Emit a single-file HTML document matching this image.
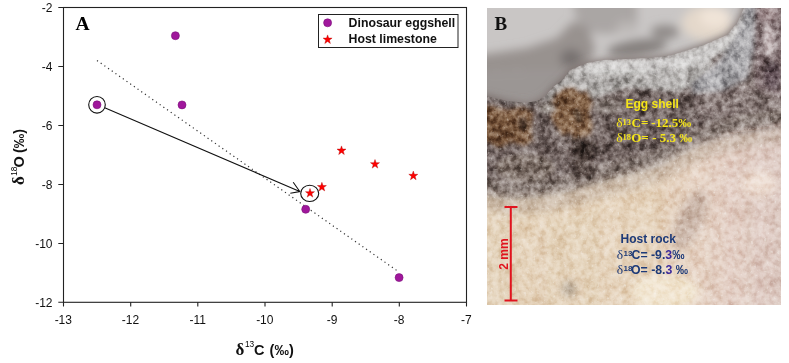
<!DOCTYPE html>
<html><head><meta charset="utf-8">
<style>
html,body{margin:0;padding:0;background:#fff;}
body{width:789px;height:363px;overflow:hidden;position:relative;font-family:"Liberation Sans",sans-serif;}
svg{position:absolute;left:0;top:0;}
.t{font-family:"Liberation Sans",sans-serif;font-size:12px;fill:#111;}
.b{font-family:"Liberation Sans",sans-serif;font-weight:bold;}
.s{font-family:"Liberation Serif",serif;}
</style></head><body>
<svg id="chart" width="789" height="363" viewBox="0 0 789 363">
 <!-- axes box -->
 <g stroke="#222" stroke-width="1.1" fill="none">
  <rect x="63.5" y="7.5" width="403" height="294.8"/>
  <!-- y ticks -->
  <path d="M58.3 7.5H63.5M58.3 66.5H63.5M58.3 125.5H63.5M58.3 184.5H63.5M58.3 243.5H63.5M58.3 302.3H63.5"/>
  <!-- x ticks -->
  <path d="M63.5 302.3V306.6M130.7 302.3V306.6M197.8 302.3V306.6M265 302.3V306.6M332.2 302.3V306.6M399.3 302.3V306.6M466.5 302.3V306.6"/>
 </g>
 <g class="t" text-anchor="end">
  <text x="52.5" y="11.5">-2</text>
  <text x="52.5" y="70.5">-4</text>
  <text x="52.5" y="129.5">-6</text>
  <text x="52.5" y="188.5">-8</text>
  <text x="52.5" y="247.5">-10</text>
  <text x="52.5" y="306.5">-12</text>
 </g>
 <g class="t" text-anchor="middle">
  <text x="63.3" y="323.5">-13</text>
  <text x="130.5" y="323.5">-12</text>
  <text x="197.7" y="323.5">-11</text>
  <text x="264.8" y="323.5">-10</text>
  <text x="332" y="323.5">-9</text>
  <text x="399.2" y="323.5">-8</text>
  <text x="466.4" y="323.5">-7</text>
 </g>
 <!-- panel label A -->
 <text x="75.5" y="29.8" font-family="Liberation Serif" font-weight="bold" font-size="19.5" fill="#000">A</text>
 <!-- axis titles -->
 <g fill="#111">
  <text x="235.6" y="354.6" font-family="Liberation Serif" font-weight="bold" font-size="17">δ</text>
  <text x="245" y="347.3" font-size="8.3" fill="#000">13</text>
  <text x="254" y="354.6" class="b" font-size="14.5">C</text>
  <text x="269.6" y="354.6" class="b" font-size="14.5">(‰)</text>
 </g>
 <g fill="#111" transform="rotate(-90)">
  <text x="-185" y="24.2" font-family="Liberation Serif" font-weight="bold" font-size="17">δ</text>
  <text x="-175.8" y="17" font-size="8.3" fill="#000">18</text>
  <text x="-167.6" y="24.2" class="b" font-size="14.5">O</text>
  <text x="-153" y="24.2" class="b" font-size="14.5">(‰)</text>
 </g>
 <!-- regression dotted line -->
 <path d="M97 60.5L397.5 271" stroke="#333" stroke-width="1.2" stroke-dasharray="1.2 3.3" fill="none"/>
 <!-- arrow -->
 <path d="M104.7 107.8L299.8 191.5M293.2 182.3L299.8 191.5L290.3 193.3" stroke="#111" stroke-width="1.1" fill="none"/>
 <!-- circles -->
 <circle cx="97" cy="104.8" r="8.3" stroke="#111" stroke-width="1.1" fill="none"/>
 <ellipse cx="309.7" cy="193.4" rx="9" ry="8.1" stroke="#111" stroke-width="1.1" fill="none"/>
 <!-- eggshell points -->
 <g fill="#a0179c" stroke="#7a0f78" stroke-width="0.6">
  <circle cx="175.4" cy="35.7" r="4"/>
  <circle cx="97" cy="104.8" r="4"/>
  <circle cx="182" cy="104.9" r="4"/>
  <circle cx="305.7" cy="209.3" r="4"/>
  <circle cx="399.1" cy="277.6" r="4"/>
 </g>
 <!-- stars -->
 <defs>
  <path id="star" d="M0,-4.7L1.1,-1.5L4.5,-1.5L1.8,0.6L2.8,3.9L0,1.9L-2.8,3.9L-1.8,0.6L-4.5,-1.5L-1.1,-1.5Z"/>
 </defs>
 <g fill="#ff0000" stroke="#b00000" stroke-width="0.4">
  <use href="#star" x="310" y="193.2"/>
  <use href="#star" x="321.9" y="187"/>
  <use href="#star" x="341.5" y="150.6"/>
  <use href="#star" x="375" y="164.2"/>
  <use href="#star" x="413.3" y="175.8"/>
 </g>
 <!-- legend -->
 <rect x="318.5" y="14.5" width="139.5" height="33" fill="#fff" stroke="#222" stroke-width="1"/>
 <circle cx="327.6" cy="22.8" r="4" fill="#a0179c" stroke="#7a0f78" stroke-width="0.6"/>
 <use href="#star" x="327.6" y="39.6" fill="#ff0000" stroke="#b00000" stroke-width="0.4"/>
 <text x="348.6" y="26.9" class="b" font-size="12.3" fill="#111">Dinosaur eggshell</text>
 <text x="348.6" y="43.1" class="b" font-size="12.3" fill="#111">Host limestone</text>
</svg>
<div id="photo" style="position:absolute;left:487px;top:8px;width:294px;height:297px;overflow:hidden;background:#c7c4c3;">
<svg width="294" height="297" viewBox="0 0 294 297" style="position:absolute;left:0;top:0">
 <defs>
  <filter id="bl" x="-20%" y="-20%" width="140%" height="140%"><feGaussianBlur stdDeviation="4"/></filter>
  <filter id="bl5" x="-20%" y="-20%" width="140%" height="140%"><feGaussianBlur stdDeviation="5"/></filter>
  <filter id="bl25" x="-20%" y="-20%" width="140%" height="140%"><feGaussianBlur stdDeviation="2.2"/></filter>
  <filter id="bl1" x="-5%" y="-5%" width="110%" height="110%"><feGaussianBlur stdDeviation="0.9"/></filter>
  <filter id="tdark" x="0" y="0" width="100%" height="100%"><feTurbulence type="fractalNoise" baseFrequency="0.09" numOctaves="3" seed="11"/><feColorMatrix type="matrix" values="0 0 0 0 0.24  0 0 0 0 0.19  0 0 0 0 0.18  3.4 0 0 0 -1.6"/></filter>
  <filter id="tlight" x="0" y="0" width="100%" height="100%"><feTurbulence type="fractalNoise" baseFrequency="0.11" numOctaves="3" seed="5"/><feColorMatrix type="matrix" values="0 0 0 0 0.78  0 0 0 0 0.73  0 0 0 0 0.71  3.0 0 0 0 -1.65"/></filter>
  <filter id="tspark" x="0" y="0" width="100%" height="100%"><feTurbulence type="fractalNoise" baseFrequency="0.3" numOctaves="2" seed="9"/><feColorMatrix type="matrix" values="0 0 0 0 0.93  0 0 0 0 0.91  0 0 0 0 0.88  6 0 0 0 -3.9"/><feGaussianBlur stdDeviation="0.6"/></filter>
  <filter id="hdark" x="0" y="0" width="100%" height="100%"><feTurbulence type="fractalNoise" baseFrequency="0.06" numOctaves="3" seed="21"/><feColorMatrix type="matrix" values="0 0 0 0 0.66  0 0 0 0 0.56  0 0 0 0 0.45  2.8 0 0 0 -1.5"/></filter>
  <filter id="hlight" x="0" y="0" width="100%" height="100%"><feTurbulence type="fractalNoise" baseFrequency="0.12" numOctaves="3" seed="4"/><feColorMatrix type="matrix" values="0 0 0 0 0.95  0 0 0 0 0.92  0 0 0 0 0.87  3.2 0 0 0 -1.65"/><feGaussianBlur stdDeviation="0.7"/></filter>
  <filter id="ovn" x="0" y="0" width="100%" height="100%" color-interpolation-filters="sRGB"><feTurbulence type="fractalNoise" baseFrequency="0.06" numOctaves="4" seed="17"/><feColorMatrix type="matrix" values="1 0 0 0 0  1 0 0 0 0  1 0 0 0 0  0 0 0 0 1"/><feComponentTransfer><feFuncR type="linear" slope="2" intercept="-0.5"/><feFuncG type="linear" slope="2" intercept="-0.5"/><feFuncB type="linear" slope="2" intercept="-0.5"/></feComponentTransfer></filter>
  <filter id="ovn2" x="0" y="0" width="100%" height="100%" color-interpolation-filters="sRGB"><feTurbulence type="fractalNoise" baseFrequency="0.17" numOctaves="3" seed="29"/><feColorMatrix type="matrix" values="1 0 0 0 0  1 0 0 0 0  1 0 0 0 0  0 0 0 0 1"/><feComponentTransfer><feFuncR type="linear" slope="2" intercept="-0.5"/><feFuncG type="linear" slope="2" intercept="-0.5"/><feFuncB type="linear" slope="2" intercept="-0.5"/></feComponentTransfer></filter>
  <linearGradient id="hostg" x1="0" y1="0" x2="294" y2="0" gradientUnits="userSpaceOnUse">
   <stop offset="0" stop-color="#e4d3bb"/><stop offset="0.55" stop-color="#e6d4bd"/><stop offset="0.78" stop-color="#e4d0c4"/><stop offset="1" stop-color="#ddc9c2"/>
  </linearGradient>
  <clipPath id="rockclip2"><polygon points="-20,88 0,88 20,93 40,95 52,92 60,86 66,79 75,72 83,62 100,55 116,52 140,51 165,50 185,47 198,43 219,36 240,27 250,15 257,0 259,-20 314,-20 314,320 -20,320"/></clipPath>
  <clipPath id="rockclip"><polygon points="-20,88 0,88 20,93 40,95 52,92 60,86 66,79 75,72 83,62 100,55 116,52 140,51 165,50 185,47 198,43 219,36 240,27 250,15 257,0 259,-20 314,-20 314,118 294,118 270,122 255,124 240,127 225,132 210,137 198,143 185,150 170,158 150,164 127,170 105,176 85,182 65,186 42,189 20,190 0,186 -20,186"/></clipPath>
  <clipPath id="hostclip"><polygon points="-20,186 0,186 20,190 42,189 65,186 85,182 105,176 127,170 150,164 170,158 185,150 198,143 210,137 225,132 240,127 255,124 270,122 294,118 314,118 314,320 -20,320"/></clipPath>
 </defs>
 <rect width="294" height="297" fill="#c9c6c5"/>
 <g filter="url(#bl5)">
  <path d="M85,-10L150,-10L150,22L120,26L92,24Z" fill="#aaa6a4"/>
  <path d="M-20,47L0,46L40,40L70,30L85,14L100,18L108,40L102,58L80,62L40,62L0,64L-20,64Z" fill="#98928f"/>
  <ellipse cx="84" cy="50" rx="11" ry="9" fill="#777170"/>
  <ellipse cx="150" cy="40" rx="30" ry="8" transform="rotate(-8 150 40)" fill="#85807e"/>
  <ellipse cx="178" cy="24" rx="14" ry="7" fill="#8f8a88"/>
  <ellipse cx="140" cy="19" rx="11" ry="6" fill="#bbb7b5"/>
  <path d="M-20,64L0,64L40,62L80,62L95,60L80,80L50,95L-20,98Z" fill="#9b9694"/>
  <ellipse cx="220" cy="15" rx="25" ry="17" fill="#e4d8cb"/>
  <ellipse cx="228" cy="9" rx="15" ry="10" fill="#f0e4d8"/>
 </g>
 <g filter="url(#bl)">
  <polygon points="-20,88 0,88 20,93 40,95 52,92 60,86 66,79 75,72 83,62 100,55 116,52 140,51 165,50 185,47 198,43 219,36 240,27 250,15 257,0 259,-20 314,-20 314,118 294,118 270,122 255,124 240,127 225,132 210,137 198,143 185,150 170,158 150,164 127,170 105,176 85,182 65,186 42,189 20,190 0,186 -20,186" fill="#6f625e"/>
 </g>
 <g clip-path="url(#rockclip)">
 <g filter="url(#bl25)">
  <!-- light rock surface zone -->
  <path d="M55,92L66,79L75,72L83,62L100,55L116,52L140,51L165,50L185,47L198,43L219,36L230,40L222,62L210,78L190,84L165,82L140,80L120,86L100,92L80,92Z" fill="#b3b0ae"/>
  <path d="M90,60L100,55L116,52L140,51L165,50L185,47L198,43L219,36L240,27L250,15L257,0L259,-20H268L266,10L258,30L240,44L215,54L190,62L160,66L130,66L105,66Z" fill="#cfcdcc"/>
  <!-- striated layer -->
  <path d="M205,75L222,62L236,48L248,30L256,10L259,-20H270L269,0L267,41L261,70L236,83L205,86Z" fill="#aaa9ac"/>
  <!-- right column -->
  <path d="M269,-20H314V100L295,98L280,90L268,80L267,40Z" fill="#806e70"/>
  <ellipse cx="282" cy="32" rx="6" ry="16" fill="#c6b9ba"/>
  <ellipse cx="281" cy="6" rx="10" ry="9" fill="#b09fa0"/>
  <ellipse cx="286" cy="68" rx="9" ry="14" fill="#5e4e52"/>
  <ellipse cx="262" cy="80" rx="8" ry="6" fill="#7f706c"/>
  <!-- mid right -->
  <path d="M205,86L236,83L262,78L314,95V112L280,108L240,108L210,104Z" fill="#8a7b79"/>
  <!-- lower right light -->
  <path d="M236,130L245,115L260,110L314,108V160L230,160Z" fill="#cabcb8"/>
  <ellipse cx="255" cy="128" rx="16" ry="9" fill="#d8ccc8"/>
  <!-- rust zones -->
  <path d="M-20,98L5,98L20,102L35,99L46,104L44,122L46,132L38,138L25,134L12,140L2,134L-20,132Z" fill="#7a583c"/>
  <path d="M62,96L68,86L76,80L86,78L94,84L100,82L106,94L102,106L106,118L102,130L96,138L88,134L84,124L76,128L70,120L64,110Z" fill="#86654a"/>
  <path d="M30,112L38,108L42,120L34,124Z" fill="#5a4538"/>
  <path d="M86,104L92,100L96,112L90,116Z" fill="#5a4638"/>
  <ellipse cx="60" cy="100" rx="8" ry="6" fill="#a49c96"/>
  <ellipse cx="120" cy="98" rx="14" ry="8" fill="#8c817c"/>
  <polyline points="-20,186 0,186 20,190 42,189 65,186 85,182 105,176 127,170 150,164 170,158 185,150 198,143 210,137 225,132 240,127 255,124 270,122 294,118 314,118" fill="none" stroke="#8a7d77" stroke-width="16" transform="translate(0,-9)"/>
  <!-- dark patch -->
  <path d="M83,131L106,126L108,171L88,170Z" fill="#524540"/>
  <!-- left lower lighter -->
  <ellipse cx="38" cy="160" rx="30" ry="14" fill="#887a72"/>
 </g>
 </g>
 <g filter="url(#bl)">
  <polygon points="-20,186 0,186 20,190 42,189 65,186 85,182 105,176 127,170 150,164 170,158 185,150 198,143 210,137 225,132 240,127 255,124 270,122 294,118 314,118 314,320 -20,320" fill="url(#hostg)"/>
  <polyline points="-20,186 0,186 20,190 42,189 65,186 85,182 105,176 127,170 150,164 170,158 185,150 198,143 210,137 225,132 240,127 255,124 270,122 294,118 314,118" fill="none" stroke="#bcac9c" stroke-width="14" transform="translate(0,9)" opacity="0.6"/>
  <ellipse cx="203" cy="212" rx="13" ry="32" transform="rotate(25 203 212)" fill="#c8b4a8" opacity="0.8"/>
  <ellipse cx="82" cy="281" rx="6" ry="7" fill="#9a8b7a"/>
  <ellipse cx="178" cy="284" rx="34" ry="18" fill="#f2e6d2"/>
  <ellipse cx="272" cy="176" rx="18" ry="12" fill="#eedfd4"/>
 </g>
 <rect width="294" height="297" clip-path="url(#rockclip)" filter="url(#ovn)" style="mix-blend-mode:soft-light" opacity="0.5"/>
 <rect width="294" height="297" clip-path="url(#rockclip)" filter="url(#ovn2)" style="mix-blend-mode:soft-light" opacity="0.7"/>
 <rect width="294" height="297" clip-path="url(#rockclip)" filter="url(#tspark)" opacity="0.25"/>
 <rect width="294" height="297" clip-path="url(#hostclip)" filter="url(#ovn)" style="mix-blend-mode:soft-light" opacity="0.3"/>
 <rect width="294" height="297" clip-path="url(#hostclip)" filter="url(#ovn2)" style="mix-blend-mode:soft-light" opacity="0.45"/>
 <rect width="294" height="297" clip-path="url(#hostclip)" filter="url(#tspark)" opacity="0.35"/>
</svg>
</div>
<svg id="ov" width="789" height="363" viewBox="0 0 789 363" style="position:absolute;left:0;top:0">
 <text x="494.5" y="30" font-family="Liberation Serif" font-weight="bold" font-size="19" fill="#111">B</text>
 <!-- scale bar -->
 <g stroke="#e0141e" stroke-width="2" fill="none">
  <path d="M504.5 207H517.5M510.8 207V300.5M504.5 300.5H517.5"/>
 </g>
 <text transform="translate(507.5 254) rotate(-90)" text-anchor="middle" class="b" font-size="12" fill="#e0141e">2 mm</text>
 <!-- eggshell text -->
 <g fill="#f5e51a">
  <text x="625.5" y="108" class="b" font-size="12">Egg shell</text>
  <text x="616.3" y="127" font-family="Liberation Serif" font-size="13.5">δ</text>
  <text x="622.6" y="124.6" font-family="Liberation Serif" font-weight="bold" font-size="8.5">13</text>
  <text x="631.6" y="127" font-family="Liberation Serif" font-weight="bold" font-size="13">C=</text>
  <text x="651.2" y="127" font-family="Liberation Serif" font-weight="bold" font-size="13">-12.5‰</text>
  <text x="616.3" y="142" font-family="Liberation Serif" font-size="13.5">δ</text>
  <text x="622.6" y="139.6" font-family="Liberation Serif" font-weight="bold" font-size="8.5">18</text>
  <text x="631.2" y="142" font-family="Liberation Serif" font-weight="bold" font-size="13">O=</text>
  <text x="652.2" y="142" font-family="Liberation Serif" font-weight="bold" font-size="13">- 5.3 ‰</text>
 </g>
 <!-- host text -->
 <g fill="#1d3a78">
  <text x="620.5" y="242.8" class="b" font-size="12">Host rock</text>
  <text x="616.8" y="259.3" font-family="Liberation Serif" font-size="13.5">δ</text>
  <text x="623.6" y="256" class="b" font-size="8">13</text>
  <text x="631.5" y="259.3" class="b" font-size="12.3">C= -9.<tspan fill="#3b2a9c">3</tspan>‰</text>
  <text x="616.8" y="274" font-family="Liberation Serif" font-size="13.5">δ</text>
  <text x="623.6" y="270.7" class="b" font-size="8">18</text>
  <text x="631" y="274" class="b" font-size="12.3">O= -8.<tspan fill="#3b2a9c">3</tspan> ‰</text>
 </g>
</svg>
</body></html>
